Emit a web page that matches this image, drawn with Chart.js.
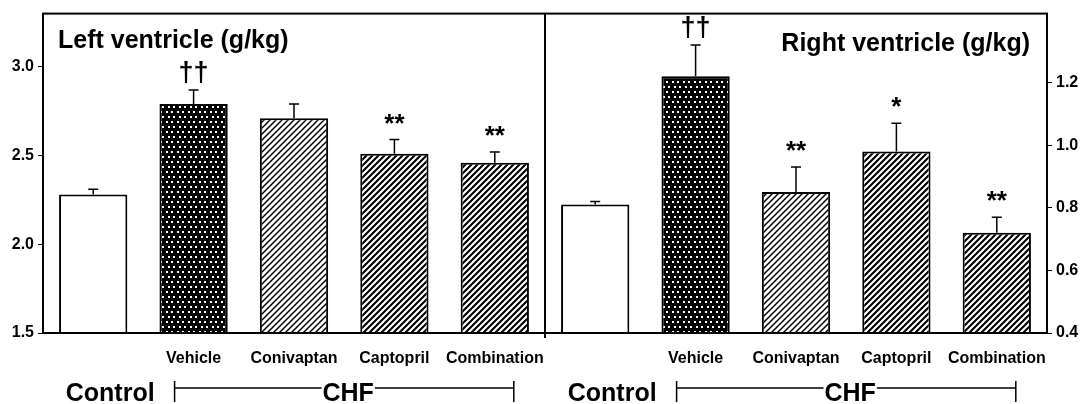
<!DOCTYPE html>
<html>
<head>
<meta charset="utf-8">
<script src="https://cdn.jsdelivr.net/npm/chart.js@4.4.1/dist/chart.umd.min.js"></script>
<style>
  body { margin: 0; background: #fff; }
  #wrap { width: 1087px; height: 404px; }
</style>
</head>
<body>
<div id="wrap"><canvas id="heartChart" width="1087" height="404"></canvas></div>
<script>
// categories (Control + 4 CHF groups, left panel then right panel)
const categories = ["", "Vehicle", "Conivaptan", "Captopril", "Combination",
                    "", "Vehicle", "Conivaptan", "Captopril", "Combination"];

// Left ventricle (g/kg), mean and SEM
const left_Values = [2.28, 2.79, 2.71, 2.51, 2.46];
const left_Errors = [0.03, 0.08, 0.08, 0.08, 0.06];
const left_Marks = ["", "\u2020\u2020", "", "**", "**"];

// Right ventricle (g/kg), mean and SEM
const right_Values = [0.81, 1.22, 0.85, 0.98, 0.72];
const right_Errors = [0.01, 0.10, 0.08, 0.09, 0.05];
const right_Marks = ["", "\u2020\u2020", "**", "*", "**"];

// tick labels
const left_Ticks = [1.5, 2.0, 2.5, 3.0];
const right_Ticks = [0.4, 0.6, 0.8, 1.0, 1.2];

const panel_Titles = ["Left ventricle (g/kg)", "Right ventricle (g/kg)"];
const group_Labels = ["Control", "CHF"];

const FONT = "'Liberation Sans', Arial, sans-serif";

// ---- fill patterns ----
function makeTile(w, h, draw) {
    const c = document.createElement("canvas");
    c.width = w; c.height = h;
    draw(c.getContext("2d"));
    return document.createElement("canvas").getContext("2d").createPattern(c, "repeat");
}

const dotPattern = makeTile(11, 10, (g) => {
    g.fillStyle = "#000";
    g.fillRect(0, 0, 11, 10);
    g.fillStyle = "#fff";
    g.fillRect(1, 1, 2, 2);
    g.fillRect(6, 1, 2, 2);
    g.fillRect(3, 6, 2, 2);
    g.fillRect(8, 6, 2, 2);
});

function hatch(lw) {
    return makeTile(6, 6, (g) => {
        g.fillStyle = "#fff";
        g.fillRect(0, 0, 6, 6);
        g.strokeStyle = "#000";
        g.lineWidth = lw;
        g.beginPath();
        g.moveTo(-1, 7); g.lineTo(7, -1);
        g.moveTo(-1, 1); g.lineTo(1, -1);
        g.moveTo(5, 7); g.lineTo(7, 5);
        g.stroke();
    });
}
const lightHatch = hatch(1.5);
const darkHatch = hatch(2.1);

const fills = ["#ffffff", dotPattern, lightHatch, darkHatch, darkHatch];

// ---- extra drawing: frame, error bars, marks, titles, group labels ----
const decorPlugin = {
    id: "decor",
    afterDatasetsDraw(chart) {
        const ctx = chart.ctx;
        const x = chart.scales.x;
        const area = chart.chartArea;
        const sets = [
            { scale: chart.scales.yL, vals: left_Values, errs: left_Errors, marks: left_Marks, off: 0 },
            { scale: chart.scales.yR, vals: right_Values, errs: right_Errors, marks: right_Marks, off: 5 }
        ];
        ctx.save();
        ctx.strokeStyle = "#000";
        ctx.fillStyle = "#000";

        // error bars + significance marks
        sets.forEach((s) => {
            s.vals.forEach((v, i) => {
                const cx = x.getPixelForValue(i + s.off);
                const yTop = s.scale.getPixelForValue(v);
                const yErr = s.scale.getPixelForValue(v + s.errs[i]);
                ctx.lineWidth = 1.5;
                ctx.beginPath();
                ctx.moveTo(cx, yTop);
                ctx.lineTo(cx, yErr);
                ctx.moveTo(cx - 5, yErr);
                ctx.lineTo(cx + 5, yErr);
                ctx.stroke();

                const m = s.marks[i];
                if (m) {
                    ctx.textAlign = "center";
                    ctx.textBaseline = "alphabetic";
                    if (m.indexOf("\u2020") >= 0) {
                        ctx.font = "bold 27px " + FONT;
                        ctx.fillText(m, cx, yErr - 9);
                    } else {
                        ctx.font = "bold 26px " + FONT;
                        ctx.fillText(m, cx, yErr - 8);
                    }
                }
            });
        });

        // frame and divider
        ctx.lineWidth = 2;
        ctx.strokeRect(area.left, area.top, area.right - area.left, area.bottom - area.top);
        const mid = (x.getPixelForValue(4) + x.getPixelForValue(5)) / 2;
        ctx.beginPath();
        ctx.moveTo(mid, area.top);
        ctx.lineTo(mid, area.bottom + 5);
        ctx.stroke();

        // panel titles
        ctx.font = "bold 25px " + FONT;
        ctx.textBaseline = "alphabetic";
        ctx.textAlign = "left";
        ctx.fillText(panel_Titles[0], area.left + 15, 48);
        ctx.textAlign = "right";
        ctx.fillText(panel_Titles[1], area.right - 17, 51);

        // Control / CHF row
        [0, 5].forEach((off) => {
            const start = x.getPixelForValue(off + 1) - 19;
            const end = x.getPixelForValue(off + 4) + 19;
            const yLine = 388;
            ctx.lineWidth = 1.5;
            ctx.beginPath();
            ctx.moveTo(start, yLine); ctx.lineTo(end, yLine);
            ctx.moveTo(start, 381); ctx.lineTo(start, 402);
            ctx.moveTo(end, 381); ctx.lineTo(end, 402);
            ctx.stroke();

            ctx.font = "bold 25px " + FONT;
            ctx.textAlign = "right";
            ctx.fillText(group_Labels[0], start - 20, 401);

            const cx = (start + end) / 2 + 4;
            const w = ctx.measureText(group_Labels[1]).width;
            ctx.fillStyle = "#fff";
            ctx.fillRect(cx - w / 2 - 1, 380, w + 2, 22);
            ctx.fillStyle = "#000";
            ctx.textAlign = "center";
            ctx.fillText(group_Labels[1], cx, 401);
        });
        ctx.restore();
    }
};

const padNull = (arr, before) => before ? [null, null, null, null, null].concat(arr) : arr.concat([null, null, null, null, null]);

new Chart(document.getElementById("heartChart"), {
    type: "bar",
    data: {
        labels: categories,
        datasets: [
            {
                label: "Left ventricle",
                data: padNull(left_Values, false),
                yAxisID: "yL",
                backgroundColor: fills.concat(fills),
                borderColor: "#000",
                borderWidth: 2,
                borderSkipped: "bottom"
            },
            {
                label: "Right ventricle",
                data: padNull(right_Values, true),
                yAxisID: "yR",
                backgroundColor: fills.concat(fills),
                borderColor: "#000",
                borderWidth: 2,
                borderSkipped: "bottom"
            }
        ]
    },
    options: {
        responsive: false,
        animation: false,
        layout: { padding: { top: 13, left: 0, right: 0, bottom: 0 } },
        plugins: { legend: { display: false }, tooltip: { enabled: false } },
        datasets: { bar: { grouped: false, categoryPercentage: 1, barPercentage: 0.68 } },
        scales: {
            x: {
                grid: { display: false },
                border: { display: true, color: "#000", width: 2 },
                ticks: {
                    color: "#000",
                    font: { family: FONT, size: 16, weight: "bold" },
                    padding: 8,
                    maxRotation: 0,
                    autoSkip: false
                },
                afterFit: (s) => { s.height = 71; }
            },
            yL: {
                position: "left",
                min: 1.5,
                max: 3.3,
                grid: { drawOnChartArea: false, drawTicks: true, tickLength: 5, color: "#000" },
                border: { display: true, color: "#000", width: 2 },
                afterBuildTicks: (s) => { s.ticks = left_Ticks.map((v) => ({ value: v })); },
                ticks: {
                    color: "#000",
                    font: { family: FONT, size: 16, weight: "bold" },
                    padding: 4,
                    callback: (v) => Number(v).toFixed(1)
                },
                afterFit: (s) => { s.width = 43; }
            },
            yR: {
                position: "right",
                min: 0.4,
                max: 1.42,
                grid: { drawOnChartArea: false, drawTicks: true, tickLength: 5, color: "#000" },
                border: { display: true, color: "#000", width: 2 },
                afterBuildTicks: (s) => { s.ticks = right_Ticks.map((v) => ({ value: v })); },
                ticks: {
                    color: "#000",
                    font: { family: FONT, size: 16, weight: "bold" },
                    padding: 4,
                    callback: (v) => Number(v).toFixed(1)
                },
                afterFit: (s) => { s.width = 40; }
            }
        }
    },
    plugins: [decorPlugin]
});
</script>
</body>
</html>
